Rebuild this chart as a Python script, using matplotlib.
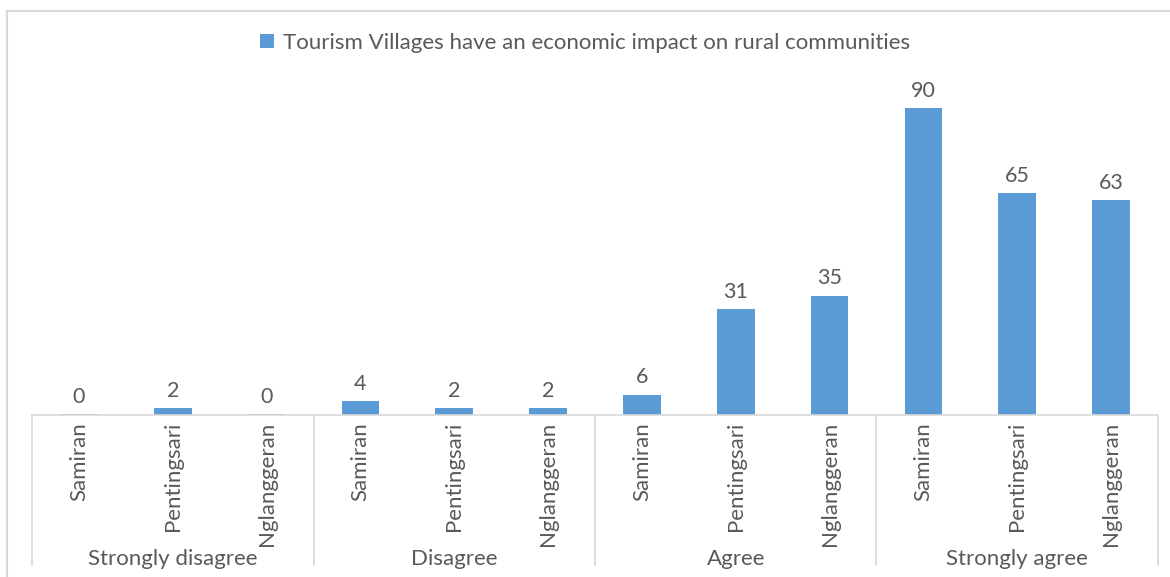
import numpy as np
import matplotlib.pyplot as plt
from matplotlib.lines import Line2D

plt.rcParams['font.family'] = ['Lato', 'DejaVu Sans']

groups = ['Strongly disagree', 'Disagree', 'Agree', 'Strongly agree']
villages = ['Samiran', 'Pentingsari', 'Nglanggeran']
values = [0, 2, 0, 4, 2, 2, 6, 31, 35, 90, 65, 63]
series_name = 'Tourism Villages have an economic impact on rural communities'

bar_color = '#5b9bd5'
text_color = '#595959'
line_color = '#d9d9d9'

W, H = 1170, 577
fig = plt.figure(figsize=(W / 100, H / 100), dpi=100)
ax = fig.add_axes([32 / W, 1 - 415 / H, (1158 - 32) / W, (415 - 74) / H])

x = np.arange(len(values))
ax.bar(x, values, width=0.4, color=bar_color, label=series_name)
# small sliver so zero bars are still visible, like the original
for xi, v in zip(x, values):
    if v == 0:
        ax.bar(xi, 0.25, width=0.4, color=bar_color)
    ax.text(xi, v + 2.2, str(v), ha='center', va='bottom', fontsize=15.5, color=text_color)

ax.set_xlim(-0.5, len(values) - 0.5)
ax.set_ylim(0, 100)
ax.set_yticks([])
ax.set_xticks([])
for s in ['left', 'right', 'top']:
    ax.spines[s].set_visible(False)
ax.spines['bottom'].set_color(line_color)
ax.spines['bottom'].set_linewidth(1.2)

trans = ax.get_xaxis_transform()
px = 1 / (415 - 74)  # one pixel in axes-fraction units
for i, xi in enumerate(x):
    ax.text(xi, -7 * px, villages[i % 3], rotation=90, ha='center', va='top',
            fontsize=16, color=text_color, transform=trans, clip_on=False)

n = len(villages)
for g, name in enumerate(groups):
    ax.text(g * n + (n - 1) / 2, -144 * px, name, ha='center', va='center',
            fontsize=16, color=text_color, transform=trans, clip_on=False)
for g in range(len(groups) + 1):
    ax.add_line(Line2D([g * n - 0.5] * 2, [0, -150 * px], color=line_color,
                       lw=1.2, transform=trans, clip_on=False))

fig.legend(loc='center', bbox_to_anchor=(0.5, 1 - 43 / H), frameon=False,
           fontsize=16, labelcolor=text_color, handlelength=0.6, handleheight=0.6,
           handletextpad=0.4)

# chart area border (clipped by the image on right and bottom)
fig.add_artist(Line2D([7 / W, 1], [1 - 11 / H] * 2, color=line_color, lw=1.5,
                      transform=fig.transFigure))
fig.add_artist(Line2D([7 / W] * 2, [0, 1 - 11 / H], color=line_color, lw=1.5,
                      transform=fig.transFigure))

fig.savefig('out.png', dpi=100)
